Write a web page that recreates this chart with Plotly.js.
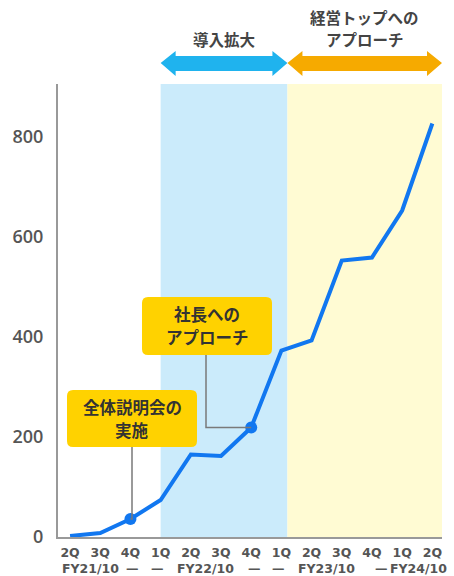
<!DOCTYPE html>
<html>
<head>
<meta charset="utf-8">
<script src="https://cdn.plot.ly/plotly-3.0.1.min.js"></script>
<style>html,body{margin:0;padding:0;background:#fff;}#chart{width:454px;height:576px;}</style>
</head>
<body>
<div id="chart"></div>
<script>
// ---- data ----
const quarters = ['2Q','3Q','4Q','1Q','2Q','3Q','4Q','1Q','2Q','3Q','4Q','1Q','2Q'];
const fiscalRow = ['FY21/10','—','—','FY22/10','—','—','FY23/10','—','FY24/10'];
const values = [2, 8, 36, 74, 165, 162, 219, 373, 393, 553, 559, 653, 827];
const milestoneIdx = [2, 6];
const milestoneLabels = ['全体説明会の<br>実施', '社長への<br>アプローチ'];
const phaseLabels = ['導入拡大', '経営トップへの<br>アプローチ'];
const phaseFrom = [3, 7.2];
const phaseTo = [7.2, 12.32];
const yTicks = [0, 200, 400, 600, 800];

// ---- layout helpers ----
const W = 454, H = 576;
const mL = 58, mR = 12, mT = 84, mB = 39;
const xMin = -0.4, xMax = 12.32, yMax = 906;
const plotH = H - mT - mB;
const fyPos = [0.66, 2.08, 2.9, 4.5, 6.1, 6.9, 8.5, 10.3, 11.55];
const pyToPaper = py => (H - mB - py) / plotH;
const pxToX = px => xMin + (px - mL) / (W - mL - mR) * (xMax - xMin);

const JP = '"Noto Sans CJK JP", "Noto Sans", sans-serif';
const idx = quarters.map((_, i) => i);

const shapes = [];
const annotations = [];
const bandColors = ['#CBEBFB', '#FFFBD3'];
const arrowColors = ['#1FB3EE', '#F6AA00'];

// multi-line text as separate annotations, centred on pixel y
function addLines(text, x, cyPx, gap, font) {
  const lines = text.split('<br>');
  const n = lines.length;
  lines.forEach((ln, k) => {
    const py = cyPx + (k - (n - 1) / 2) * gap;
    annotations.push({xref:'x', yref:'paper', x:x, y:pyToPaper(py), text:ln,
      showarrow:false, xanchor:'center', yanchor:'middle', font:font});
  });
}

phaseFrom.forEach((x0, i) => {
  const x1 = phaseTo[i];
  shapes.push({type:'rect', xref:'x', yref:'paper', x0:x0, x1:x1, y0:0, y1:1,
    fillcolor:bandColors[i], line:{width:0}, layer:'below'});
  // double arrow
  const hl = 15 / ((W - mL - mR) / (xMax - xMin));
  const yc = pyToPaper(63), ys1 = pyToPaper(56), ys2 = pyToPaper(71), yh1 = pyToPaper(51), yh2 = pyToPaper(76);
  const p = `M${x0},${yc} L${x0+hl},${yh1} L${x0+hl},${ys1} L${x1-hl},${ys1} L${x1-hl},${yh1} L${x1},${yc} L${x1-hl},${yh2} L${x1-hl},${ys2} L${x0+hl},${ys2} L${x0+hl},${yh2} Z`;
  shapes.push({type:'path', xref:'x', yref:'paper', path:p, fillcolor:arrowColors[i], line:{width:0}});
  addLines(phaseLabels[i], (x0 + x1) / 2, i === 0 ? 39 : 28, 21.5,
    {family:JP, size:15.5, color:'#444', weight:700});
});

// callout boxes (pixel boxes converted)
const boxes = [
  {l:67, r:197, t:390, b:447, cx:132},
  {l:142, r:272, t:297, b:355, cx:206}
];
boxes.forEach((bx, i) => {
  const x0 = pxToX(bx.l), x1 = pxToX(bx.r), y0 = pyToPaper(bx.b), y1 = pyToPaper(bx.t);
  const rx = 6 / ((W - mL - mR) / (xMax - xMin)), ry = 6 / plotH;
  const p = `M${x0+rx},${y0} L${x1-rx},${y0} Q${x1},${y0} ${x1},${y0+ry} L${x1},${y1-ry} Q${x1},${y1} ${x1-rx},${y1} L${x0+rx},${y1} Q${x0},${y1} ${x0},${y1-ry} L${x0},${y0+ry} Q${x0},${y0} ${x0+rx},${y0} Z`;
  // connector
  const mi = milestoneIdx[i];
  const cx = pxToX(bx.cx);
  const yB = (H - mB - bx.b) / plotH * yMax;
  if (Math.abs(cx - mi) < 0.05) {
    shapes.push({type:'line', xref:'x', yref:'y', x0:mi, x1:mi, y0:values[mi], y1:yB, line:{color:'#7a7a7a', width:1.5}});
  } else {
    shapes.push({type:'path', xref:'x', yref:'y', path:`M${cx},${yB} L${cx},${values[mi]} L${mi},${values[mi]}`, line:{color:'#7a7a7a', width:1.5}});
  }
  shapes.push({type:'path', xref:'x', yref:'paper', path:p, fillcolor:'#FFD200', line:{width:0}});
  addLines(milestoneLabels[i], (x0 + x1) / 2, (bx.t + bx.b) / 2 - 0.5, 23,
    {family:JP, size:16.5, color:'#333', weight:700});
});

// second row of x labels
fiscalRow.forEach((t, i) => {
  annotations.push({xref:'x', yref:'paper', x:fyPos[i], y:pyToPaper(568.5), xanchor:'center', yanchor:'middle',
    text:t, showarrow:false, font:{family:'"DejaVu Sans", sans-serif', size:12.5, color:'#555', weight:600}});
});

const trace = {
  x: idx, y: values, type:'scatter', mode:'lines',
  line:{color:'#1177F0', width:4}, hoverinfo:'skip'
};
const markers = {
  x: milestoneIdx, y: milestoneIdx.map(i => values[i]), type:'scatter', mode:'markers',
  marker:{color:'#1177F0', size:12}, hoverinfo:'skip'
};

const layout = {
  width:W, height:H, margin:{l:mL, r:mR, t:mT, b:mB},
  paper_bgcolor:'#fff', plot_bgcolor:'rgba(0,0,0,0)', showlegend:false,
  xaxis:{range:[xMin, xMax], tickvals:idx, ticktext:quarters, showgrid:false, zeroline:false,
    showline:true, linecolor:'#999', linewidth:2, ticks:'', ticklabelstandoff:3,
    tickfont:{family:'"DejaVu Sans", sans-serif', size:12.5, color:'#555', weight:600}},
  yaxis:{range:[0, yMax], tickvals:yTicks, showgrid:false, zeroline:false,
    showline:true, linecolor:'#999', linewidth:2, ticks:'', ticklabelstandoff:9,
    tickfont:{family:'"Open Sans", sans-serif', size:18, color:'#555', weight:600}},
  shapes:shapes, annotations:annotations
};
Plotly.newPlot('chart', [trace, markers], layout, {displayModeBar:false, staticPlot:true});
</script>
</body>
</html>
